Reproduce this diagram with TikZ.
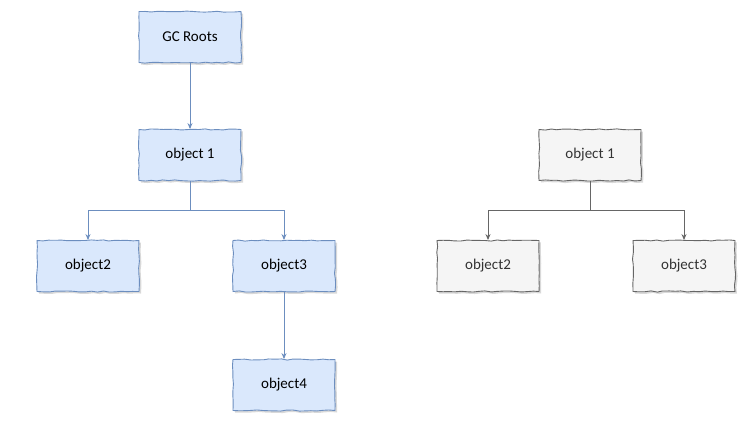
\documentclass[tikz,border=0pt]{standalone}
\usepackage{fontspec}
\setmainfont{Carlito}
\usetikzlibrary{positioning,arrows.meta,shadows,decorations.pathmorphing}
\definecolor{liveFill}{HTML}{DAE8FC}
\definecolor{liveDraw}{HTML}{6C8EBF}
\definecolor{deadFill}{HTML}{F5F5F5}
\definecolor{deadDraw}{HTML}{666666}
\definecolor{deadText}{HTML}{333333}
\tikzset{
  sketch/.style={decorate, decoration={random steps, segment length=6pt, amplitude=0.6pt}},
  objbox/.style={rectangle, sketch, line width=0.9pt, minimum width=102pt, minimum height=51pt,
    font=\fontsize{15}{17}\selectfont,
    drop shadow={opacity=0.3, shadow xshift=2pt, shadow yshift=-2pt}},
  livebox/.style={objbox, draw=liveDraw, fill=liveFill, text=black},
  deadbox/.style={objbox, draw=deadDraw, fill=deadFill, text=deadText},
  livearrow/.style={draw=liveDraw, line width=0.9pt, -{Stealth[length=6pt,width=5pt]}},
  deadarrow/.style={draw=deadDraw, line width=0.9pt, -{Stealth[length=6pt,width=5pt]}}
}

\begin{document}
\begin{tikzpicture}[x=1pt,y=-1pt]
    \useasboundingbox (0,0) rectangle (744,437);
    \pgfmathsetmacro{\branch}{210}	%y of the branch lines

	% reachable objects
    \node[livebox] (roots) at (190,37) {GC Roots};
    \node[livebox] (obj1) at (190,155) {object 1};
    \node[livebox] (obj2) at (88,266) {object2};
    \node[livebox] (obj3) at (284,266) {object3};
    \node[livebox] (obj4) at (284,385) {object4};

	% unreachable objects
    \node[deadbox] (dobj1) at (590,155) {object 1};
    \node[deadbox] (dobj2) at (488,266) {object2};
    \node[deadbox] (dobj3) at (684,266) {object3};

    \draw[livearrow] (roots) -- (obj1);
    \draw[livearrow] (obj1.south) |- (88,\branch) -- (obj2.north);
    \draw[livearrow] (obj1.south) |- (284,\branch) -- (obj3.north);
    \draw[livearrow] (obj3) -- (obj4);

    \draw[deadarrow] (dobj1.south) |- (488,\branch) -- (dobj2.north);
    \draw[deadarrow] (dobj1.south) |- (684,\branch) -- (dobj3.north);
\end{tikzpicture}
\end{document}
